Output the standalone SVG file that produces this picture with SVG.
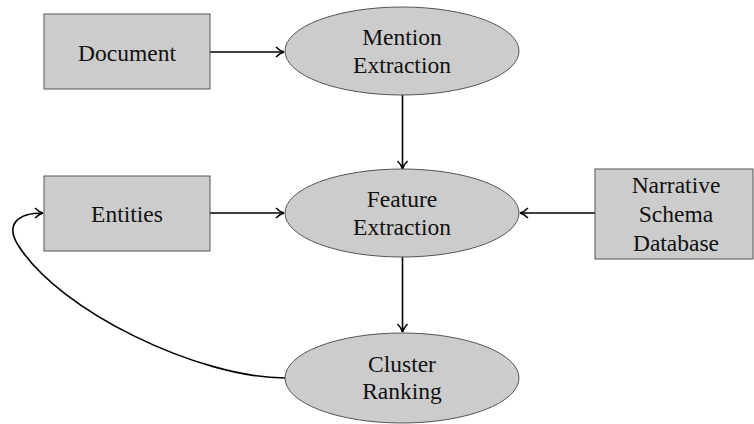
<svg xmlns="http://www.w3.org/2000/svg" width="754" height="424" viewBox="0 0 754 424">
<style>
.box{fill:#cccccc;stroke:#555555;stroke-width:1}
.t{font-family:"Liberation Serif","Times New Roman",serif;font-size:23.5px;fill:#111;text-anchor:middle}
.e{fill:none;stroke:#000;stroke-width:1.6}
</style>
<defs>
<marker id="ah" viewBox="0 0 10 12" refX="9" refY="6" markerWidth="10" markerHeight="12" markerUnits="userSpaceOnUse" orient="auto">
<path d="M1,1 Q5,5 9,6 Q5,7 1,11" fill="none" stroke="#000" stroke-width="1.5"/>
</marker>
</defs>
<rect width="754" height="424" fill="#fff"/>
<g id="edges">
<line class="e" x1="210" y1="52" x2="284" y2="52" marker-end="url(#ah)"/>
<line class="e" x1="402.5" y1="95" x2="402.5" y2="169" marker-end="url(#ah)"/>
<line class="e" x1="210" y1="213" x2="284" y2="213" marker-end="url(#ah)"/>
<line class="e" x1="595" y1="213" x2="520" y2="213" marker-end="url(#ah)"/>
<line class="e" x1="402.5" y1="257" x2="402.5" y2="332" marker-end="url(#ah)"/>
<path class="e" d="M285,378 C200,378 60,312 18,245 C5,224 18,213 43,213" marker-end="url(#ah)"/>
</g>
<g id="document">
<rect class="box" x="44" y="14" width="166" height="75"/>
<text class="t" x="127" y="61">Document</text>
</g>
<g id="mention">
<ellipse class="box" cx="402" cy="51" rx="117" ry="44"/>
<text class="t" x="402" y="45">Mention</text>
<text class="t" x="402" y="73">Extraction</text>
</g>
<g id="entities">
<rect class="box" x="44" y="176" width="166" height="75"/>
<text class="t" x="127" y="222">Entities</text>
</g>
<g id="feature">
<ellipse class="box" cx="402" cy="213" rx="117" ry="44"/>
<text class="t" x="402" y="207">Feature</text>
<text class="t" x="402" y="235">Extraction</text>
</g>
<g id="narrative">
<rect class="box" x="595" y="169" width="158" height="90"/>
<text class="t" x="676" y="193">Narrative</text>
<text class="t" x="676" y="222">Schema</text>
<text class="t" x="676" y="251">Database</text>
</g>
<g id="cluster">
<ellipse class="box" cx="402" cy="378" rx="117" ry="45"/>
<text class="t" x="402" y="372">Cluster</text>
<text class="t" x="402" y="399">Ranking</text>
</g>
</svg>
